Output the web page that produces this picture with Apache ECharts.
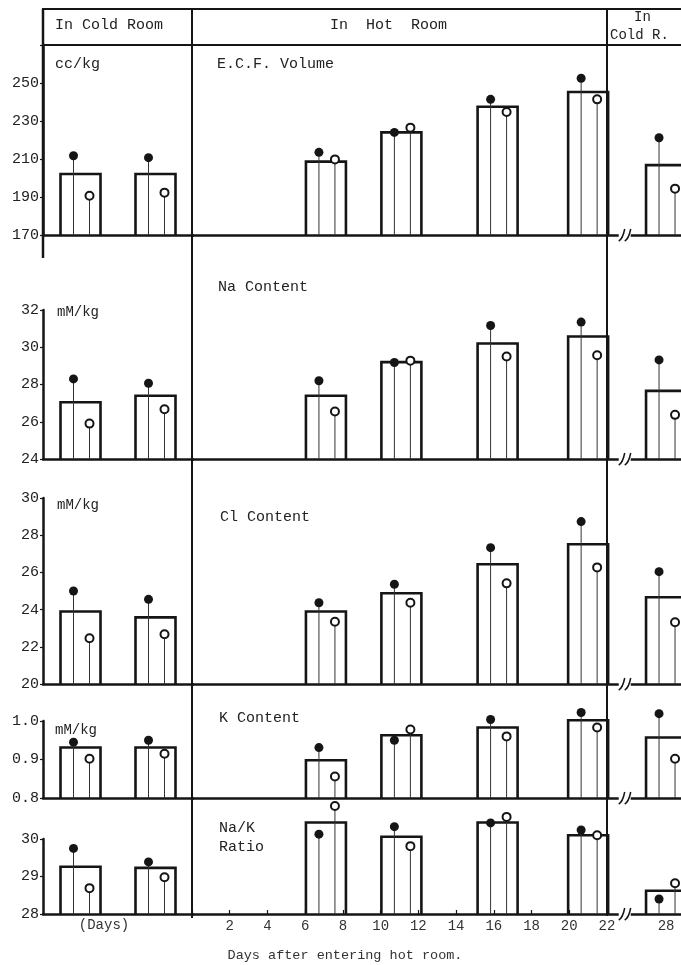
<!DOCTYPE html>
<html>
<head>
<meta charset="utf-8">
<script src="https://cdn.jsdelivr.net/npm/echarts@6/dist/echarts.min.js"></script>
<style>
  html, body { margin: 0; padding: 0; background: #fff; }
  #chart { width: 681px; height: 965px; }
</style>
</head>
<body>
<div id="chart"></div>
<script>
// Groups: two cold-room controls, four hot-room periods (days), one cold-room recovery day.
const coldLabels = ['Control 1', 'Control 2'];
const hotDays = [7.1, 11.1, 16.2, 21.0];
const recoveryDays = [28];

// Extracellular fluid volume, cc/kg (bar = mean, filled / open circle = the two subjects)
const ecfMean   = [202.1, 202.1, 208.6, 224.0, 237.5, 245.3, 206.8];
const ecfFilled = [211.7, 210.7, 213.5, 224.0, 241.4, 252.5, 221.2];
const ecfOpen   = [190.7, 192.3, 209.8, 226.5, 234.7, 241.4, 194.4];

// Na content, mM/kg
const naMean   = [27.05, 27.4, 27.4, 29.2, 30.2, 30.58, 27.66];
const naFilled = [28.3, 28.07, 28.2, 29.18, 31.17, 31.35, 29.32];
const naOpen   = [25.9, 26.67, 26.55, 29.28, 29.5, 29.57, 26.37];

// Cl content, mM/kg
const clMean   = [23.9, 23.58, 23.9, 24.88, 26.44, 27.51, 24.66];
const clFilled = [25.0, 24.55, 24.37, 25.36, 27.33, 28.73, 26.04];
const clOpen   = [22.46, 22.67, 23.35, 24.37, 25.41, 26.27, 23.32];

// K content, mM/kg
const kMean   = [0.931, 0.931, 0.898, 0.963, 0.983, 1.002, 0.957];
const kFilled = [0.945, 0.950, 0.931, 0.950, 1.004, 1.022, 1.019];
const kOpen   = [0.902, 0.915, 0.856, 0.978, 0.960, 0.983, 0.902];

// Na/K ratio
const nakMean   = [29.26, 29.23, 30.44, 30.06, 30.44, 30.10, 28.62];
const nakFilled = [29.75, 29.39, 30.13, 30.33, 30.43, 30.24, 28.40];
const nakOpen   = [28.69, 28.98, 30.88, 29.81, 30.59, 30.10, 28.82];

const MONO = '"Liberation Mono", "DejaVu Sans Mono", monospace';
const INK = '#151515';

const rows = [
  { mean: ecfMean, filled: ecfFilled, open: ecfOpen, min: 170, max: 270, step: 20, top: 45,  base: 235,
    fmt: v => (v >= 270 ? '' : String(v)) },
  { mean: naMean,  filled: naFilled,  open: naOpen,  min: 24,  max: 32,  step: 2,  top: 310, base: 459,
    fmt: v => String(v) },
  { mean: clMean,  filled: clFilled,  open: clOpen,  min: 20,  max: 30,  step: 2,  top: 498, base: 684,
    fmt: v => String(v) },
  { mean: kMean,   filled: kFilled,   open: kOpen,   min: 0.8, max: 1.0, step: 0.1, top: 721, base: 798,
    fmt: v => Number(v).toFixed(1) },
  { mean: nakMean, filled: nakFilled, open: nakOpen, min: 28,  max: 30,  step: 1,  top: 839, base: 914,
    fmt: v => String(v) }
];

// Recovery section runs off the right edge of the page: same day scale as the hot room,
// starting after an axis break.
const cols = [
  { left: 43,  width: 150, slice: [0, 2] },
  { left: 192, width: 415, slice: [2, 6] },
  { left: 607, width: 74,  slice: [6, 7] }
];

function xPositions(c) {
  if (c === 0) return coldLabels.map((_, i) => i);
  if (c === 1) return hotDays;
  return recoveryDays;
}

const grids = [], xAxes = [], yAxes = [], series = [];
const lastRow = rows.length - 1;

rows.forEach((row, r) => {
  cols.forEach((col, c) => {
    const idx = grids.length;
    grids.push({ left: col.left, width: col.width, top: row.top, height: row.base - row.top });

    if (c === 0) {
      xAxes.push({
        gridIndex: idx, type: 'category', data: coldLabels, boundaryGap: true, position: 'bottom',
        axisLine: { show: true, lineStyle: { color: INK, width: 2.5 } },
        axisTick: { show: false }, axisLabel: { show: false }, splitLine: { show: false }
      });
    } else if (c === 1) {
      xAxes.push({
        gridIndex: idx, type: 'value', min: 0, max: 22, interval: 2, position: 'bottom',
        axisLine: { show: true, onZero: false, lineStyle: { color: INK, width: 2.5 } },
        axisTick: { show: r === lastRow, inside: true, length: 4, lineStyle: { color: INK, width: 1.2 } },
        axisLabel: { show: r === lastRow, margin: 5, fontFamily: MONO, fontSize: 14, color: '#333',
                     formatter: v => (v === 0 ? '' : String(v)) },
        splitLine: { show: false }
      });
    } else {
      xAxes.push({
        gridIndex: idx, type: 'value', min: 25, max: 28.76, interval: 1, position: 'bottom',
        axisLine: { show: true, onZero: false, lineStyle: { color: INK, width: 2.5 } },
        axisTick: { show: false },
        axisLabel: { show: r === lastRow, margin: 5, fontFamily: MONO, fontSize: 14, color: '#333',
                     showMaxLabel: false,
                     formatter: v => (v === 28 ? '28' : '') },
        splitLine: { show: false }
      });
    }

    yAxes.push({
      gridIndex: idx, type: 'value', min: row.min, max: row.max, interval: row.step, show: c === 0,
      axisLine: { show: true, lineStyle: { color: INK, width: 2.5 } },
      axisTick: { show: true, inside: false, length: 3, lineStyle: { color: INK, width: 1.2 } },
      axisLabel: { margin: 4, fontFamily: MONO, fontSize: 15, color: '#222', formatter: row.fmt },
      splitLine: { show: false }
    });

    const xs = xPositions(c);
    const [a, b] = col.slice;
    const yMin = row.min;

    // Mean bars: open rectangles standing on the baseline
    series.push({
      type: 'custom', xAxisIndex: idx, yAxisIndex: idx, clip: false, z: 2,
      data: row.mean.slice(a, b).map((v, i) => [xs[i], v]),
      renderItem(params, api) {
        const top = api.coord([api.value(0), api.value(1)]);
        const bot = api.coord([api.value(0), yMin]);
        const hw = 20;
        return {
          type: 'polyline',
          shape: { points: [[top[0] - hw, bot[1]], [top[0] - hw, top[1]], [top[0] + hw, top[1]], [top[0] + hw, bot[1]]] },
          style: { stroke: INK, lineWidth: 2.6, fill: null }
        };
      }
    });

    // Individual subjects: stem from the baseline topped with a filled or open circle
    [[row.filled, -7, true], [row.open, 9, false]].forEach(([vals, dx, solid]) => {
      series.push({
        type: 'custom', xAxisIndex: idx, yAxisIndex: idx, clip: false, z: solid ? 3 : 4,
        data: vals.slice(a, b).map((v, i) => [xs[i], v]),
        renderItem(params, api) {
          const p = api.coord([api.value(0), api.value(1)]);
          const bot = api.coord([api.value(0), yMin]);
          const x = p[0] + dx;
          return {
            type: 'group',
            children: [
              { type: 'line', shape: { x1: x, y1: bot[1], x2: x, y2: p[1] },
                style: { stroke: '#333', lineWidth: 1 } },
              { type: 'circle', shape: { cx: x, cy: p[1], r: solid ? 4.5 : 4 },
                style: solid ? { fill: INK } : { fill: '#fff', stroke: INK, lineWidth: 2 } }
            ]
          };
        }
      });
    });

    // Axis break on the recovery baseline
    if (c === 2) {
      series.push({
        type: 'custom', xAxisIndex: idx, yAxisIndex: idx, clip: false, z: 5,
        data: [[25.9, yMin]],
        renderItem(params, api) {
          const p = api.coord([api.value(0), api.value(1)]);
          const mk = (ox) => ({
            type: 'bezierCurve',
            shape: { x1: p[0] + ox - 3, y1: p[1] + 6, x2: p[0] + ox + 3, y2: p[1] - 6,
                     cpx1: p[0] + ox + 1, cpy1: p[1] + 4 },
            style: { stroke: INK, lineWidth: 1.5, fill: null }
          });
          return {
            type: 'group',
            children: [
              { type: 'rect', shape: { x: p[0] - 6, y: p[1] - 2, width: 12, height: 4 }, style: { fill: '#fff' } },
              mk(-3), mk(3)
            ]
          };
        }
      });
    }
  });
});

// Frame, header rules and room dividers
const line = (x1, y1, x2, y2, w) => ({
  type: 'line', silent: true, z: 10,
  shape: { x1, y1, x2, y2 }, style: { stroke: INK, lineWidth: w }
});
const text = (t, x, y, size, extra) => ({
  type: 'text', silent: true, z: 10,
  style: Object.assign({ text: t, x, y, font: `${size}px ${MONO}`, fill: '#222',
                         textAlign: 'left', textVerticalAlign: 'middle' }, extra || {})
});

const graphic = [
  line(42, 9, 681, 9, 2),
  line(42, 45, 681, 45, 2),
  line(43, 9, 43, 258, 2.5),
  line(192, 9, 192, 918, 2),
  line(607, 9, 607, 916, 2),

  text('In Cold Room', 55, 25, 15),
  text('In  Hot  Room', 330, 25, 15),
  text('In', 634, 17, 14),
  text('Cold R.', 610, 35, 14),

  text('cc/kg', 55, 64, 15),
  text('E.C.F. Volume', 217, 64, 15),
  text('Na Content', 218, 287, 15),
  text('mM/kg', 57, 312, 14),
  text('mM/kg', 57, 505, 14),
  text('Cl Content', 220, 517, 15),
  text('mM/kg', 55, 730, 14),
  text('K Content', 219, 718, 15),
  text('Na/K', 219, 828, 15),
  text('Ratio', 219, 847, 15),

  text('(Days)', 104, 925, 14, { textAlign: 'center', fill: '#333' }),
  text('Days after entering hot room.', 345, 955, 13.5, { textAlign: 'center', fill: '#333' })
];

const chart = echarts.init(document.getElementById('chart'), null, { renderer: 'canvas' });
chart.setOption({
  animation: false,
  backgroundColor: '#fff',
  grid: grids,
  xAxis: xAxes,
  yAxis: yAxes,
  series,
  graphic
});
</script>
</body>
</html>
